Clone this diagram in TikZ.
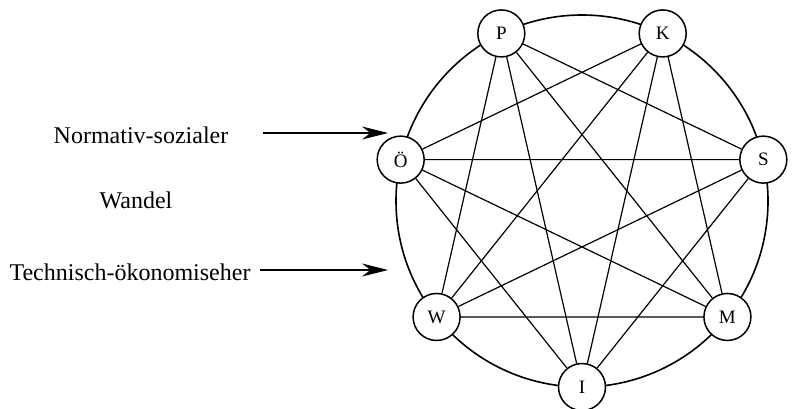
\documentclass[tikz,border=0pt]{standalone}
\usepackage{fontspec}
\setmainfont{Liberation Serif}
\usetikzlibrary{arrows.meta}
\begin{document}
\begin{tikzpicture}[x=1pt,y=1pt,
  vtx/.style={circle,draw,line width=1.5pt,fill=white,minimum size=47pt,inner sep=0pt,font=\fontsize{19}{19}\selectfont},
  chord/.style={line width=1.2pt},
  lbl/.style={font=\fontsize{24}{26}\selectfont,inner sep=0pt},
  arr/.style={line width=1.4pt,-{Stealth[length=26pt,width=13pt]}}]
\useasboundingbox[fill=white] (0,0) rectangle (792,408);
\coordinate (c) at (582,207);
\draw[line width=1.6pt] (c) circle (186);
\foreach \n/\k/\t in {I/0/I, W/1/W, O/2/Ö, P/3/P, K/4/K, S/5/S, M/6/M}
  \path (c) ++({270-\k*360/7}:186) node[vtx] (\n) {\t};
\foreach \a/\b in {I/O, I/P, I/K, I/S, W/P, W/K, W/S, W/M, O/K, O/S, O/M, P/S, P/M, K/M}
  \draw[chord] (\a) -- (\b);
\node[lbl] (ns) at (141,273) {Normativ-sozialer};
\node[lbl] (wa) at (136,208) {Wandel};
\node[lbl] (te) at (130,136) {Technisch-ökonomiseher};
\coordinate (a1s) at (263,275);
\coordinate (a1e) at (388,275);
\coordinate (a2s) at (260,138);
\coordinate (a2e) at (388,138);
\draw[arr] (a1s) -- (a1e);
\draw[arr] (a2s) -- (a2e);
\end{tikzpicture}
\end{document}
